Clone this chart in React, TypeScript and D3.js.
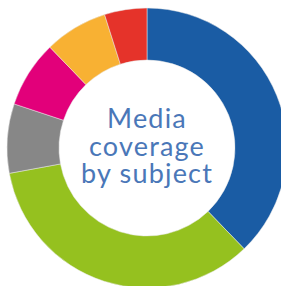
import { useEffect, useRef } from 'react'
import * as d3 from 'd3'

// shares of coverage, clockwise from 12 o'clock
const subjects = ['Subject A', 'Subject B', 'Subject C', 'Subject D', 'Subject E', 'Subject F']
const shares = [37.8, 34.3, 8, 7.7, 7.3, 4.9]
const colors = ['#1a5ca4', '#95c11f', '#878787', '#e2007a', '#f8b133', '#e5332a']
const titleLines = ['Media', 'coverage', 'by subject']

export default function App() {
  const svgRef = useRef<SVGSVGElement>(null)

  useEffect(() => {
    if (!svgRef.current) return
    const svg = d3.select(svgRef.current)
    svg.selectAll('*').remove()

    const cx = 147
    const cy = 148
    const outer = 140
    const inner = 88

    const data = subjects.map((s, i) => ({ name: s, value: shares[i], color: colors[i] }))

    const pie = d3.pie<{ name: string; value: number; color: string }>()
      .sort(null)
      .value(d => d.value)

    const arc = d3.arc<d3.PieArcDatum<{ name: string; value: number; color: string }>>()
      .innerRadius(inner)
      .outerRadius(outer)

    const g = svg.append('g').attr('transform', `translate(${cx},${cy})`)

    g.selectAll('path')
      .data(pie(data))
      .enter().append('path')
      .attr('d', arc)
      .attr('fill', d => d.data.color)
      .attr('stroke', '#e8e8e8')
      .attr('stroke-width', 0.5)

    // centre title
    const lineH = 27.5
    g.selectAll('text')
      .data(titleLines)
      .enter().append('text')
      .attr('x', 0)
      .attr('y', (_, i) => (i - 1) * lineH + 7.5)
      .attr('text-anchor', 'middle')
      .attr('font-family', 'Lato, "Open Sans", sans-serif')
      .attr('font-size', 27)
      .attr('letter-spacing', 1.2)
      .attr('fill', '#4a77b8')
      .text(d => d)
  }, [])

  return (
    <svg
      ref={svgRef}
      width={281}
      height={286}
      style={{ position: 'absolute', left: 0, top: 0, background: '#fff' }}
    />
  )
}
